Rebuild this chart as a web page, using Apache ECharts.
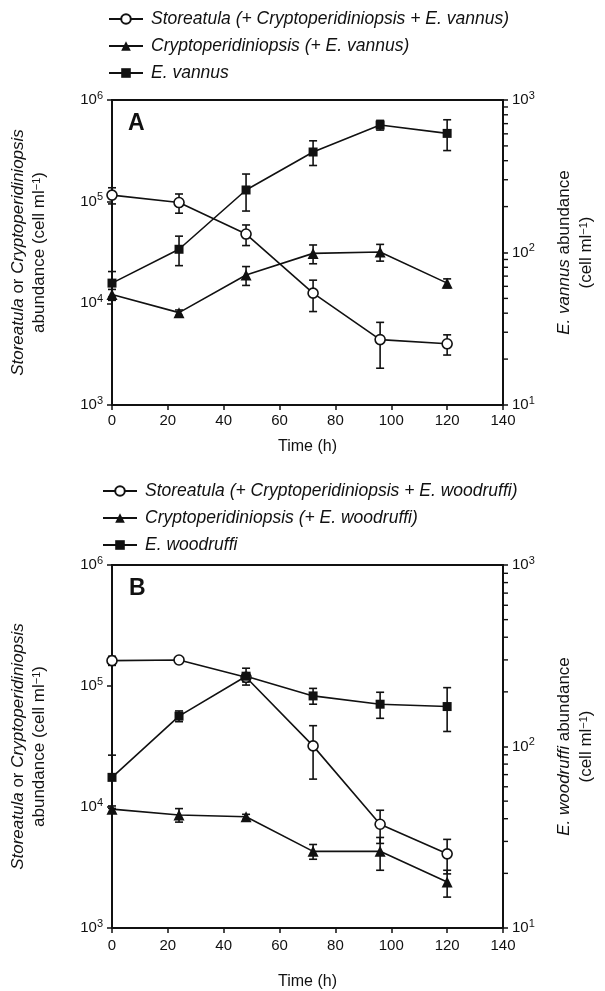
<!DOCTYPE html>
<html>
<head>
<meta charset="utf-8">
<script src="https://cdn.jsdelivr.net/npm/echarts@6/dist/echarts.min.js"></script>
<style>
  html, body { margin: 0; padding: 0; background: #fff; }
  #chart { width: 605px; height: 991px; }
</style>
</head>
<body>
<div id="chart"></div>
<script>
// sampling times (h)
const times = [0, 24, 48, 72, 96, 120];

// Panel A
const storA    = [116000, 98000, 48000, 12600, 4400, 4000];
const storA_sd = [21000, 21000, 11000, 4300, 2100, 900];
const cryA     = [12200, 8100, 19000, 31000, 32000, 15800];
const cryA_sd  = [1500, 500, 4000, 6500, 6000, 1600];
const vanA     = [63, 105, 257, 456, 685, 604];
const vanA_sd  = [12, 23, 70, 84, 50, 138];

// Panel B
const storB    = [162000, 164000, 118000, 32000, 7200, 4100];
const storB_sd = [14000, 10000, 10000, 15000, 2200, 1300];
const cryB     = [9600, 8600, 8300, 4300, 4300, 2400];
const cryB_sd  = [600, 1100, 400, 600, 1300, 600];
const woodB    = [67.6, 147, 244, 190, 171, 166];
const woodB_sd = [22, 10, 26, 19, 28, 45];

// legend names
const namesA = ['Storeatula (+ Cryptoperidiniopsis + E. vannus)', 'Cryptoperidiniopsis (+ E. vannus)', 'E. vannus'];
const namesB = ['Storeatula (+ Cryptoperidiniopsis + E. woodruffi)', 'Cryptoperidiniopsis (+ E. woodruffi)', 'E. woodruffi'];

// minor tick values of the right log axis
const minorTicks = [20, 30, 40, 50, 60, 70, 80, 90, 200, 300, 400, 500, 600, 700, 800, 900];

document.addEventListener('DOMContentLoaded', () => {
    const chart = echarts.init(document.getElementById('chart'));
    const ink = '#111';
    const font = 'Liberation Sans, Arial, Helvetica, sans-serif';

    const supRich = {
        i: { fontStyle: 'italic', fontSize: 17, fontFamily: font, color: ink },
        sup: { fontSize: 11, fontFamily: font, color: ink, verticalAlign: 'bottom', padding: [0, 0, 8, 0] }
    };
    const tickRich = {
        sup: { fontSize: 11, fontFamily: font, color: ink, verticalAlign: 'bottom', padding: [0, 0, 9, 0] }
    };
    const powLabel = (v) => '10{sup|' + Math.round(Math.log10(v)) + '}';

    function errorItem(params, api) {
        const x = api.value(0);
        const bot = api.coord([x, api.value(1)]);
        const top = api.coord([x, api.value(2)]);
        const w = 4;
        const st = { stroke: ink, lineWidth: 1.6 };
        return {
            type: 'group',
            children: [
                { type: 'line', shape: { x1: top[0], y1: top[1], x2: bot[0], y2: bot[1] }, style: st },
                { type: 'line', shape: { x1: top[0] - w, y1: top[1], x2: top[0] + w, y2: top[1] }, style: st },
                { type: 'line', shape: { x1: bot[0] - w, y1: bot[1], x2: bot[0] + w, y2: bot[1] }, style: st }
            ]
        };
    }

    function minorItem(params, api) {
        const p = api.coord([api.value(0), api.value(1)]);
        return {
            type: 'line',
            shape: { x1: p[0], y1: p[1], x2: p[0] + 5, y2: p[1] },
            style: { stroke: ink, lineWidth: 1.4 }
        };
    }

    const errData = (v, sd) => times.map((t, i) => [t, v[i] - sd[i], v[i] + sd[i]]);

    function lineSeries(name, data, sd, gi, yi, symbol, size, fill) {
        return [{
            name: name,
            type: 'line',
            xAxisIndex: gi,
            yAxisIndex: gi * 2 + yi,
            data: times.map((t, i) => [t, data[i]]),
            symbol: symbol,
            symbolSize: size,
            showAllSymbol: true,
            clip: false,
            z: 5,
            lineStyle: { color: ink, width: 1.6 },
            itemStyle: { color: fill, borderColor: ink, borderWidth: fill === '#fff' ? 1.6 : 0 }
        }, {
            type: 'custom',
            xAxisIndex: gi,
            yAxisIndex: gi * 2 + yi,
            renderItem: errorItem,
            data: errData(data, sd),
            encode: { x: 0, y: [1, 2] },
            clip: false,
            z: 3,
            silent: true
        }];
    }

    function xAxis(gi, labelMargin, nameGap) {
        return {
            type: 'value', gridIndex: gi, min: 0, max: 140, interval: 20,
            name: 'Time (h)', nameLocation: 'middle', nameGap: nameGap,
            nameTextStyle: { fontSize: 16, fontFamily: font, color: ink },
            axisLine: { lineStyle: { color: ink, width: 2 } },
            axisTick: { length: 5, lineStyle: { color: ink, width: 1.5 } },
            axisLabel: { fontSize: 15, fontFamily: font, color: ink, margin: labelMargin },
            splitLine: { show: false }
        };
    }

    function leftAxis(gi) {
        return {
            type: 'log', logBase: 10, gridIndex: gi, min: 1000, max: 1000000, splitNumber: 3,
            position: 'left',
            name: '{i|Storeatula} or {i|Cryptoperidiniopsis}\nabundance (cell ml{sup|\u22121})',
            nameLocation: 'middle', nameRotate: 90, nameGap: 62,
            nameTextStyle: { fontSize: 17, fontFamily: font, color: ink, lineHeight: 21, rich: supRich },
            axisLine: { show: true, lineStyle: { color: ink, width: 2 } },
            axisTick: { length: 5, lineStyle: { color: ink, width: 1.5 } },
            axisLabel: { fontSize: 15, fontFamily: font, color: ink, margin: 9, formatter: powLabel, rich: tickRich },
            splitLine: { show: false }
        };
    }

    function rightAxis(gi, species) {
        return {
            type: 'log', logBase: 10, gridIndex: gi, min: 10, max: 1000, splitNumber: 2,
            position: 'right',
            name: '{i|' + species + '} abundance\n(cell ml{sup|\u22121})',
            nameLocation: 'middle', nameRotate: 90, nameGap: 50,
            nameTextStyle: { fontSize: 17, fontFamily: font, color: ink, lineHeight: 22, rich: supRich },
            axisLine: { show: true, lineStyle: { color: ink, width: 2 } },
            axisTick: { length: 5, lineStyle: { color: ink, width: 1.5 } },
            axisLabel: { fontSize: 15, fontFamily: font, color: ink, margin: 9, formatter: powLabel, rich: tickRich },
            splitLine: { show: false }
        };
    }

    function legend(names, left, top) {
        return {
            orient: 'vertical', left: left, top: top,
            data: names,
            itemWidth: 34, itemHeight: 12, itemGap: 7,
            selectedMode: false,
            textStyle: { fontSize: 17.5, fontStyle: 'italic', fontFamily: font, color: ink, lineHeight: 20, padding: [0, 0, 0, 3] }
        };
    }

    const series = [].concat(
        lineSeries(namesA[0], storA, storA_sd, 0, 0, 'circle', 10, '#fff'),
        lineSeries(namesA[1], cryA, cryA_sd, 0, 0, 'triangle', 11, ink),
        lineSeries(namesA[2], vanA, vanA_sd, 0, 1, 'rect', 9, ink),
        lineSeries(namesB[0], storB, storB_sd, 1, 0, 'circle', 10, '#fff'),
        lineSeries(namesB[1], cryB, cryB_sd, 1, 0, 'triangle', 11, ink),
        lineSeries(namesB[2], woodB, woodB_sd, 1, 1, 'rect', 9, ink),
        [0, 1].map(gi => ({
            type: 'custom',
            xAxisIndex: gi,
            yAxisIndex: gi * 2 + 1,
            renderItem: minorItem,
            data: minorTicks.map(v => [140, v]),
            clip: false,
            silent: true
        }))
    );

    const option = {
        animation: false,
        backgroundColor: '#fff',
        textStyle: { fontFamily: font },
        legend: [legend(namesA, 103, 4), legend(namesB, 97, 476)],
        grid: [
            { left: 112, top: 100, width: 392, height: 305, show: true, borderColor: ink, borderWidth: 2, backgroundColor: 'transparent' },
            { left: 112, top: 565, width: 392, height: 363, show: true, borderColor: ink, borderWidth: 2, backgroundColor: 'transparent' }
        ],
        xAxis: [xAxis(0, 8, 34), xAxis(1, 10, 46)],
        yAxis: [leftAxis(0), rightAxis(0, 'E. vannus'), leftAxis(1), rightAxis(1, 'E. woodruffi')],
        graphic: [
            { type: 'text', left: 128, top: 112, style: { text: 'A', fontSize: 23, fontWeight: 'bold', fontFamily: font, fill: ink } },
            { type: 'text', left: 129, top: 577, style: { text: 'B', fontSize: 23, fontWeight: 'bold', fontFamily: font, fill: ink } }
        ],
        series: series
    };
    chart.setOption(option);
});
</script>
</body>
</html>
